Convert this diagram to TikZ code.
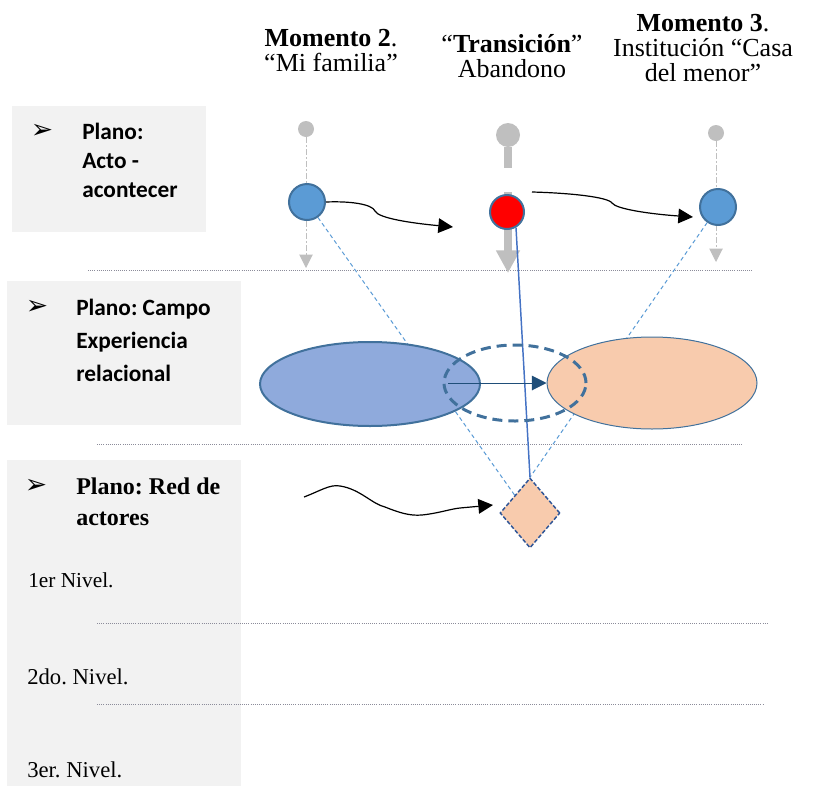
\documentclass[tikz,border=0pt]{standalone}
\usepackage{fontspec}
\setmainfont{Liberation Serif}
\newfontfamily\calibfont{Carlito}
\newfontfamily\dingfont{DejaVu Sans}
\usetikzlibrary{arrows.meta,shapes.geometric}
\frenchspacing

\definecolor{boxgrey}{HTML}{F2F2F2}
\definecolor{actblue}{HTML}{5B9BD5}
\definecolor{edgeblue}{HTML}{41719C}
\definecolor{fieldblue}{HTML}{8FAADC}
\definecolor{peach}{HTML}{F8CBAD}
\definecolor{navyblue}{HTML}{1F4E79}
\definecolor{linkblue}{HTML}{4472C4}
\definecolor{rimblue}{HTML}{2F5597}
\definecolor{dropgrey}{HTML}{BFBFBF}
\definecolor{sepgrey}{HTML}{8C8C9A}

\begin{document}
\begin{tikzpicture}[
  x=0.75pt, y=-0.75pt,
  planobox/.style={fill=boxgrey, inner sep=0pt, minimum width=175.5pt},
  headtxt/.style={align=center, anchor=base, inner sep=0pt, font=\fontsize{19.5}{18.75}\selectfont},
  planotxt/.style={align=left, anchor=base west, inner sep=0pt},
  bullet/.style={inner sep=0pt, font=\dingfont\fontsize{20}{20}\selectfont},
  niveltxt/.style={anchor=base west, inner sep=0pt, font=\fontsize{17}{20}\selectfont},
  sepline/.style={sepgrey, densely dotted, line width=0.6pt},
  actdot/.style={circle, draw=edgeblue, line width=1.5pt, inner sep=0pt, minimum size=27pt},
  greydot/.style={circle, fill=dropgrey, inner sep=0pt, minimum size=12pt},
  greydrop/.style={dropgrey, line width=0.75pt, dash pattern=on 4pt off 2pt on 1pt off 2pt, -{Triangle[width=10pt,length=10pt]}},
  greystem/.style={dropgrey, line width=6pt},
  wavy/.style={black, line width=0.9pt, -{Triangle[width=11pt,length=11pt]}},
  guide/.style={actblue, line width=0.75pt, dash pattern=on 3pt off 2.25pt},
  fieldell/.style={ellipse, inner sep=0pt, draw=edgeblue}
]
\useasboundingbox (0,0) rectangle (814,786);

% headers (base = last line)
\node[headtxt] (mom2) at (331,71) {\textbf{Momento 2}.\\“Mi familia”};
\node[headtxt] (trans) at (512,77) {“\textbf{Transición}”\\Abandono};
\node[headtxt] (mom3) at (703,81) {\textbf{Momento 3}.\\Institución “Casa\\del menor”};

% planos
\node[planobox, minimum width=145.5pt, minimum height=94.5pt] (box1) at (109,169) {};
\node[planobox, minimum height=108pt] (box2) at (124,353) {};
\node[planobox, minimum height=244.5pt] (box3) at (124,623) {};

\node[bullet] (bul1) at (42,131) {➢};
\node[planotxt, font=\calibfont\bfseries\fontsize{17.5}{21.75}\selectfont] (plano1) at (82,197) {Plano:\\Acto -\\acontecer};
\node[bullet] (bul2) at (37,307) {➢};
\node[planotxt, font=\calibfont\bfseries\fontsize{17.5}{24.75}\selectfont] (plano2) at (76,381) {Plano: Campo\\Experiencia\\relacional};
\node[bullet] (bul3) at (36,486) {➢};
\node[planotxt, font=\bfseries\fontsize{18}{23.25}\selectfont] (plano3) at (76,525) {Plano: Red de\\actores};
\node[niveltxt, font=\fontsize{16}{20}\selectfont] (niv1) at (28,587) {1er Nivel.};
\node[niveltxt] (niv2) at (27,684) {2do. Nivel.};
\node[niveltxt] (niv3) at (27,777) {3er. Nivel.};

% separadores
\draw[sepline] (88,270) -- (752,270);
\draw[sepline] (97,444) -- (743,444);
\draw[sepline] (97,623) -- (768,623);
\draw[sepline] (97,704) -- (764,704);

% caidas grises
\node[greydot] (g1) at (306,129) {};
\node[greydot, minimum size=18pt] (g2) at (508,135) {};
\node[greydot] (g3) at (716,133) {};
\coordinate (g1end) at (306,268);
\coordinate (g3end) at (716,262);
\coordinate (g2stem) at (508,168);
\coordinate (g2low) at (508,192);
\coordinate (g2end) at (508,273);
\draw[greydrop] (g1) -- (g1end);
\draw[greydrop] (g3) -- (g3end);
\draw[greystem] (g2) -- (g2stem);
\draw[greystem, -{Triangle[width=17pt,length=17pt]}] (g2low) -- (g2end);

% actores / campo
\node[diamond, draw=rimblue, fill=peach, line width=1.1pt, dash pattern=on 3pt off 1.5pt,
  inner sep=0pt, minimum width=45pt, minimum height=52.5pt] (dia) at (530,513) {};
\node[actdot, fill=actblue] (c1) at (307,202) {};
\node[actdot, fill=red, minimum size=25.5pt] (c2) at (507,212) {};
\node[actdot, fill=actblue] (c3) at (718,207) {};

\draw[guide] (c1) -- (dia.north west);
\draw[guide] (c3) -- (dia.north);
\draw[linkblue, line width=1.1pt] (c2.-60) -- (dia.north);

\node[fieldell, fill=fieldblue, line width=1.5pt, minimum width=165pt, minimum height=63pt] (e1) at (370,384) {};
\node[fieldell, fill=peach, line width=0.75pt, minimum width=157.5pt, minimum height=69pt] (e2) at (652,383) {};
\node[fieldell, line width=2.25pt, dash pattern=on 7.5pt off 4.5pt, minimum width=106.5pt, minimum height=57pt] (e3) at (515,383) {};
\coordinate (eastart) at (448,383);
\draw[navyblue, line width=0.75pt, -{Triangle[width=11pt,length=11pt]}] (eastart) -- (e2.west);

% flechas onduladas
\coordinate (a1end) at (453,227);
\coordinate (a2start) at (532,192);
\coordinate (a2end) at (693,217);
\coordinate (a3start) at (304,497);
\coordinate (a3end) at (493,505);
\draw[wavy] (c1.east) .. controls (350,201) and (372,204) .. (375,211)
  .. controls (378,218) and (410,223) .. (a1end);
\draw[wavy] (a2start) .. controls (570,193) and (608,197) .. (612,203)
  .. controls (616,209) and (650,214) .. (a2end);
\draw[wavy] (a3start) .. controls (320,491) and (330,484) .. (340,486)
  .. controls (360,489) and (372,504) .. (385,507)
  .. controls (400,513) and (410,516) .. (422,515)
  .. controls (440,513) and (450,509) .. (460,508) -- (a3end);
\end{tikzpicture}
\end{document}
